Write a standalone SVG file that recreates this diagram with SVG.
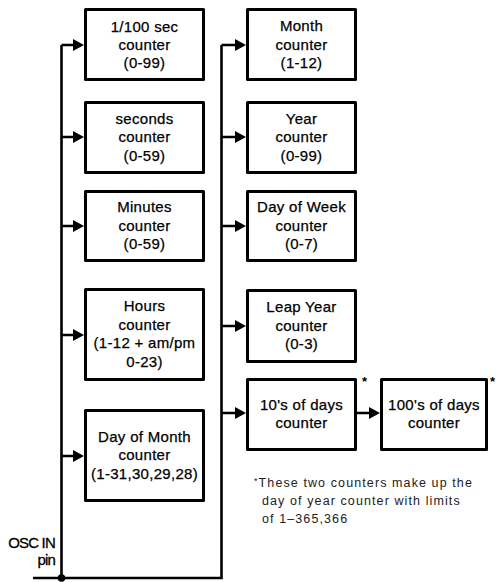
<svg xmlns="http://www.w3.org/2000/svg" width="496" height="582" viewBox="0 0 496 582">
<defs>
<style>
.box{fill:#fff;stroke:#000;stroke-width:3;stroke-linejoin:round}
.bus{fill:none;stroke:#000;stroke-width:2.6}
.arr{fill:#000}
.t{font-family:"Liberation Sans",Arial,sans-serif;font-size:15px;fill:#000;text-anchor:middle;stroke:#000;stroke-width:0.25;letter-spacing:0.3px}
.osc{font-family:"Liberation Sans",Arial,sans-serif;font-size:15px;fill:#000;text-anchor:end;letter-spacing:-0.8px;stroke:#000;stroke-width:0.3}
.note{font-family:"Liberation Sans",Arial,sans-serif;font-size:12.5px;fill:#222;letter-spacing:1.1px}
.ast{font-family:"Liberation Sans",Arial,sans-serif;font-size:13px;font-weight:bold;fill:#000}
</style>
</defs>
<rect width="496" height="582" fill="#fff"/>
<g id="connectors">
<path class="bus" d="M61.5 45 V578 M33 578 H221.5 V45"/>
<path class="bus" d="M61.5 45 H74 M61.5 137 H74 M61.5 226 H74 M61.5 335 H74 M61.5 456 H74"/>
<path class="bus" d="M221.5 45 H236 M221.5 137 H236 M221.5 226 H236 M221.5 326 H236 M221.5 413 H236 M357 413 H370"/>
<path class="arr" d="M73 39 L84 45 L73 51Z M73 131 L84 137 L73 143Z M73 220 L84 226 L73 232Z M73 329 L84 335 L73 341Z M73 450 L84 456 L73 462Z"/>
<path class="arr" d="M235 39 L246 45 L235 51Z M235 131 L246 137 L235 143Z M235 220 L246 226 L235 232Z M235 320 L246 326 L235 332Z M235 407 L246 413 L235 419Z M369 407 L380 413 L369 419Z"/>
<circle cx="61.5" cy="578" r="3.8" fill="#000"/>
</g>
<g id="osc-in">
<text class="osc" x="55" y="548">OSC IN</text>
<text class="osc" x="55" y="565">pin</text>
</g>
<g id="n-hundredths">
<rect class="box" x="85.5" y="9.5" width="118" height="70"/>
<text class="t" x="144.5" y="32">1/100 sec</text>
<text class="t" x="144.5" y="50">counter</text>
<text class="t" x="144.5" y="68">(0-99)</text>
</g>
<g id="n-seconds">
<rect class="box" x="85.5" y="102.5" width="118" height="70"/>
<text class="t" x="144.5" y="124">seconds</text>
<text class="t" x="144.5" y="142">counter</text>
<text class="t" x="144.5" y="161">(0-59)</text>
</g>
<g id="n-minutes">
<rect class="box" x="85.5" y="191.5" width="118" height="69"/>
<text class="t" x="144.5" y="212">Minutes</text>
<text class="t" x="144.5" y="231">counter</text>
<text class="t" x="144.5" y="249">(0-59)</text>
</g>
<g id="n-hours">
<rect class="box" x="85.5" y="289.5" width="118" height="90"/>
<text class="t" x="144.5" y="311">Hours</text>
<text class="t" x="144.5" y="330">counter</text>
<text class="t" x="144.5" y="348">(1-12 + am/pm</text>
<text class="t" x="144.5" y="367">0-23)</text>
</g>
<g id="n-dom">
<rect class="box" x="85.5" y="410.5" width="118" height="90"/>
<text class="t" x="144.5" y="442">Day of Month</text>
<text class="t" x="144.5" y="460">counter</text>
<text class="t" x="144.5" y="479">(1-31,30,29,28)</text>
</g>
<g id="n-month">
<rect class="box" x="247.5" y="9.5" width="108" height="70"/>
<text class="t" x="301.5" y="31">Month</text>
<text class="t" x="301.5" y="50">counter</text>
<text class="t" x="301.5" y="68">(1-12)</text>
</g>
<g id="n-year">
<rect class="box" x="247.5" y="102.5" width="108" height="70"/>
<text class="t" x="301.5" y="124">Year</text>
<text class="t" x="301.5" y="142">counter</text>
<text class="t" x="301.5" y="161">(0-99)</text>
</g>
<g id="n-dow">
<rect class="box" x="247.5" y="191.5" width="108" height="69"/>
<text class="t" x="301.5" y="212">Day of Week</text>
<text class="t" x="301.5" y="231">counter</text>
<text class="t" x="301.5" y="249">(0-7)</text>
</g>
<g id="n-leap">
<rect class="box" x="247.5" y="290.5" width="108" height="71"/>
<text class="t" x="301.5" y="312">Leap Year</text>
<text class="t" x="301.5" y="331">counter</text>
<text class="t" x="301.5" y="349">(0-3)</text>
</g>
<g id="n-tens">
<rect class="box" x="247.5" y="379.5" width="108" height="70"/>
<text class="t" x="301.5" y="410">10's of days</text>
<text class="t" x="301.5" y="428">counter</text>
<text class="ast" x="362" y="386">*</text>
</g>
<g id="n-hundreds">
<rect class="box" x="381.5" y="379.5" width="105" height="70"/>
<text class="t" x="434" y="410">100's of days</text>
<text class="t" x="434" y="428">counter</text>
<text class="ast" x="490" y="386">*</text>
</g>
<g id="footnote">
<text class="note" x="254" y="487"><tspan font-size="9px" dy="-3">*</tspan><tspan dy="3">These two counters make up the</tspan></text>
<text class="note" x="262" y="505">day of year counter with limits</text>
<text class="note" x="262" y="523">of 1–365,366</text>
</g>
</svg>
